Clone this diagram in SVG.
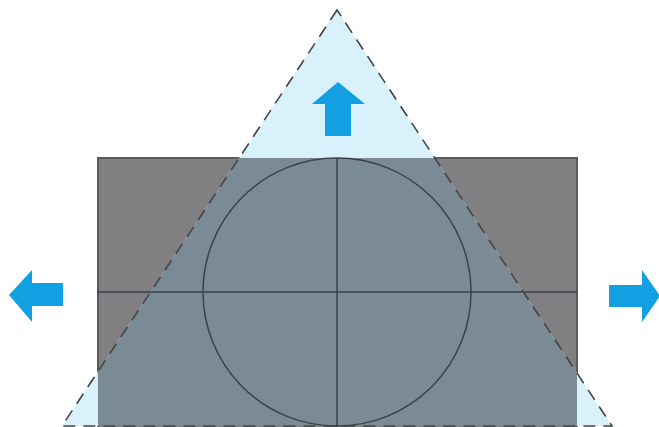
<svg xmlns="http://www.w3.org/2000/svg" width="659" height="427" viewBox="0 0 659 427">
<style>
.arrow{fill:#12a0e2}
.line{stroke:#3c4248;stroke-width:1.5;fill:none}
</style>
<defs>
<clipPath id="rc"><rect x="98" y="158" width="479" height="280"/></clipPath>
<polygon id="tri" points="337,10 62,426 612,426"/>
</defs>
<rect width="659" height="427" fill="#ffffff"/>
<g id="screen">
<rect x="98" y="158" width="479" height="280" fill="#808083" stroke="#5a5a5c" stroke-width="2"/>
</g>
<g id="triangle">
<use href="#tri" fill="#d9f1fb"/>
<use href="#tri" fill="#7a8b96" clip-path="url(#rc)"/>
</g>
<g id="grid">
<line class="line" x1="98" y1="292" x2="577" y2="292" stroke-width="2"/>
<line class="line" x1="337" y1="158" x2="337" y2="427"/>
<circle class="line" cx="337" cy="292" r="134"/>
</g>
<g id="outline">
<use href="#tri" fill="none" stroke="#444" stroke-width="1.6" stroke-dasharray="12,8"/>
</g>
<g id="arrows">
<polygon id="up" class="arrow" points="338,82 365,104 351,104 351,136 325,136 325,104 312,104"/>
<polygon id="left" class="arrow" points="9,295 32,270 32,283 63,283 63,306 32,306 32,322"/>
<polygon id="right" class="arrow" points="660,296 642,270 642,285 609,285 609,307 642,307 642,322"/>
</g>
</svg>
